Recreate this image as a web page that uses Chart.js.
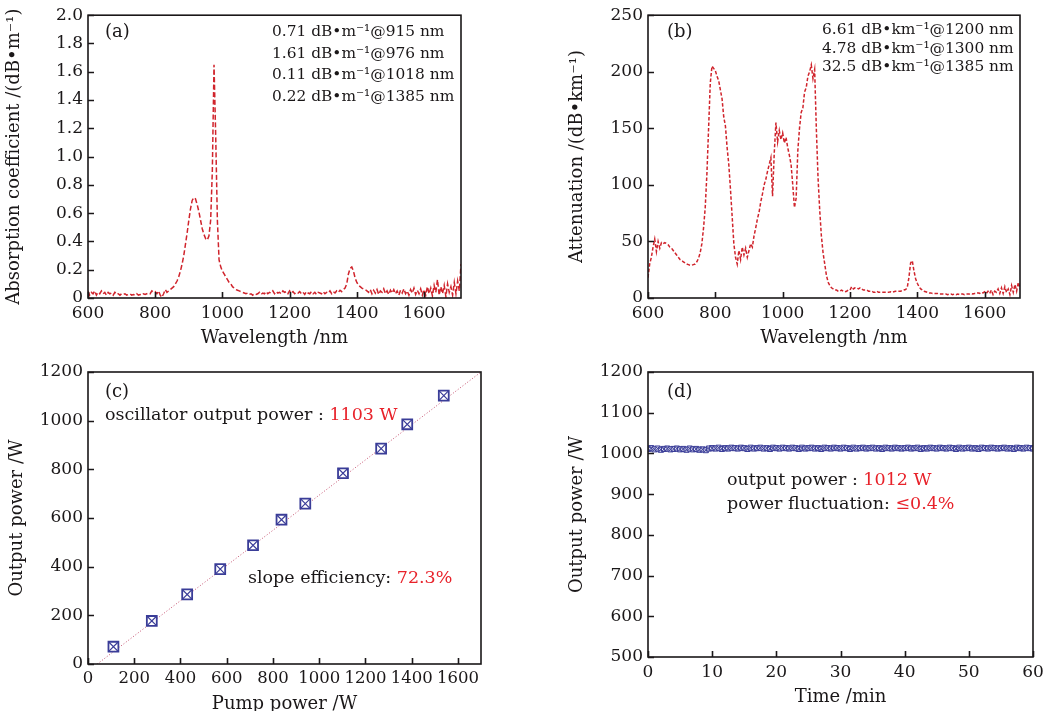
<!DOCTYPE html>
<html>
<head>
<meta charset="utf-8">
<script src="https://cdn.jsdelivr.net/npm/chart.js@4.4.1/dist/chart.umd.min.js"></script>
<style>
    body { margin: 0; background: #fff; width: 1051px; height: 711px; position: relative; overflow: hidden; }
    canvas { position: absolute; }
</style>
</head>
<body>
<canvas id="chartA" width="525" height="352" style="left:0;top:0"></canvas>
<canvas id="chartB" width="491" height="352" style="left:560px;top:0"></canvas>
<canvas id="chartC" width="525" height="360" style="left:0;top:355px"></canvas>
<canvas id="chartD" width="491" height="356" style="left:560px;top:355px"></canvas>
<script>
// (a) absorption coefficient, dB/m, sampled every 5 nm from 600 nm
const absorption = [
    0.05, 0.02, 0.04, 0.03, 0.05, 0.02, 0.04, 0.03, 0.05, 0.03,   // 600
    0.04, 0.02, 0.04, 0.03, 0.035, 0.02, 0.04, 0.025, 0.03, 0.02, // 650
    0.03, 0.025, 0.03, 0.02, 0.025, 0.03, 0.02, 0.025, 0.02, 0.03, // 700
    0.02, 0.025, 0.02, 0.03, 0.025, 0.03, 0.035, 0.03, 0.05, 0.04, // 750
    0.045, 0.03, 0.05, 0.02, 0.005, 0.03, 0.06, 0.04, 0.05, 0.06,  // 800
    0.07, 0.08, 0.10, 0.12, 0.15, 0.19, 0.24, 0.30, 0.38, 0.46,    // 850
    0.55, 0.63, 0.69, 0.71, 0.70, 0.66, 0.61, 0.55, 0.49, 0.45,    // 900
    0.42, 0.41, 0.44, 0.55, 0.90, 1.65, 1.15, 0.55, 0.27, 0.22,    // 950
    0.19, 0.17, 0.15, 0.13, 0.11, 0.10, 0.08, 0.07, 0.06, 0.055,   // 1000
    0.05, 0.045, 0.04, 0.035, 0.03, 0.035, 0.025, 0.03, 0.02, 0.03, // 1050
    0.025, 0.03, 0.04, 0.025, 0.035, 0.03, 0.045, 0.03, 0.04, 0.035, // 1100
    0.05, 0.03, 0.045, 0.035, 0.04, 0.03, 0.05, 0.04, 0.045, 0.03,  // 1150
    0.05, 0.035, 0.045, 0.03, 0.04, 0.035, 0.045, 0.03, 0.04, 0.025, // 1200
    0.045, 0.035, 0.03, 0.045, 0.03, 0.04, 0.025, 0.04, 0.035, 0.03, // 1250
    0.045, 0.03, 0.04, 0.035, 0.05, 0.03, 0.045, 0.035, 0.05, 0.04,  // 1300
    0.055, 0.045, 0.06, 0.07, 0.10, 0.17, 0.21, 0.22, 0.19, 0.14,    // 1350
    0.11, 0.09, 0.08, 0.07, 0.065, 0.06, 0.05, 0.04, 0.06, 0.03,     // 1400
    0.055, 0.035, 0.06, 0.025, 0.05, 0.04, 0.065, 0.03, 0.05, 0.025, // 1450
    0.055, 0.035, 0.06, 0.03, 0.05, 0.02, 0.055, 0.035, 0.065, 0.03, // 1500
    0.05, 0.02, 0.06, 0.035, 0.07, 0.025, 0.055, 0.03, 0.065, 0.02,  // 1550
    0.06, 0.02, 0.08, 0.03, 0.07, 0.015, 0.09, 0.04, 0.13, 0.02,     // 1600
    0.08, 0.03, 0.09, 0.01, 0.10, 0.04, 0.08, 0.02, 0.11, 0.03,      // 1650
    0.12, 0.05, 0.24                                                 // 1700
];

// (b) attenuation, dB/km, sampled every 5 nm from 600 nm
const attenuation = [
    18, 30, 36, 45, 52, 41, 50, 44, 49, 48,          // 600
    49, 48, 47, 45, 44, 42, 40, 38, 36, 34,          // 650
    33, 32, 31, 30, 29.5, 29, 29, 29.5, 30, 32,      // 700
    35, 40, 48, 62, 80, 110, 150, 190, 205, 203,     // 750
    201, 196, 192, 184, 176, 160, 152, 133, 118, 96, // 800
    72, 48, 36, 30, 42, 34, 45, 38, 44, 36,          // 850
    42, 48, 45, 55, 62, 70, 76, 85, 92, 100,         // 900
    105, 112, 118, 124, 90, 128, 155, 138, 148, 140, // 950
    146, 137, 142, 133, 126, 118, 100, 80, 88, 130,  // 1000
    150, 164, 168, 182, 186, 196, 200, 206, 194, 202, // 1050
    150, 107, 78, 55, 40, 30, 20, 14, 11, 9,         // 1100
    8, 7, 7, 6, 6, 7, 6, 5.5, 6, 7,                  // 1150
    7, 10, 8, 9, 9, 8, 9, 8, 7, 7,                   // 1200
    7, 6, 6, 6, 5, 5, 6, 5, 5, 5,                    // 1250
    5, 5, 5, 5, 5.5, 5, 5.5, 6, 6, 6,                // 1300
    6, 6.5, 7, 7.5, 9, 18, 31, 33, 24, 17,           // 1350
    13, 10, 8, 7, 6, 5.5, 5, 4.5, 4.5, 4,            // 1400
    4, 4, 4, 3.5, 3.5, 3.5, 3.5, 3.5, 3, 3.5,        // 1450
    3.5, 3, 3.5, 3, 3.5, 3, 3.5, 3.5, 3, 3.5,        // 1500
    3.5, 3.5, 4, 3.5, 4, 4, 4.5, 4, 5, 4.5,          // 1550
    5.5, 4, 6, 4, 7, 3, 6, 5, 8, 4,                  // 1600
    9, 4, 10, 5, 8, 3, 11, 5, 12, 6,                 // 1650
    14, 8                                            // 1700
];

// (c) pump power vs output power, W
const pumpPower = [110, 276, 429, 572, 714, 837, 940, 1103, 1268, 1381, 1539];
const outputPower = [71, 177, 286, 390, 488, 593, 659, 784, 885, 985, 1103];
const fitPump = [40, 1700];
const fitOutput = [0, 1200];

// (d) output power over 60 min, W, one reading every 0.5 min
const stability = [
    1011, 1013, 1010, 1012, 1009, 1011, 1012, 1010, 1011, 1012, // 0
    1010, 1011, 1009, 1012, 1010, 1011, 1009, 1010, 1008, 1012, // 5
    1013, 1012, 1014, 1011, 1013, 1012, 1014, 1013, 1012, 1014, // 10
    1013, 1011, 1014, 1012, 1013, 1014, 1012, 1013, 1011, 1014, // 15
    1013, 1012, 1014, 1013, 1012, 1014, 1013, 1011, 1014, 1012, // 20
    1013, 1014, 1012, 1013, 1011, 1014, 1013, 1012, 1014, 1013, // 25
    1012, 1014, 1013, 1011, 1014, 1012, 1013, 1014, 1012, 1013, // 30
    1014, 1012, 1013, 1011, 1014, 1013, 1012, 1014, 1013, 1012, // 35
    1013, 1014, 1012, 1013, 1014, 1011, 1013, 1012, 1014, 1013, // 40
    1012, 1014, 1013, 1012, 1014, 1013, 1011, 1014, 1012, 1013, // 45
    1014, 1012, 1013, 1011, 1014, 1013, 1012, 1014, 1013, 1012, // 50
    1013, 1014, 1012, 1013, 1011, 1014, 1013, 1012, 1014, 1013, // 55
    1012                                                        // 60
];

// sampling grids
function grid(start, step, n) {
    let out = [];
    for (let i = 0; i < n; i++) out.push(+(start + i * step).toFixed(2));
    return out;
}
const wavelengthA = grid(600, 5, absorption.length);
const wavelengthB = grid(600, 5, attenuation.length);
const timeMin = grid(0, 0.5, stability.length);

function pairs(xs, ys) {
    return xs.map((x, i) => ({x: x, y: ys[i]}));
}

const FONT = "'DejaVu Serif', serif";
const INK = '#1a1718';
const RED = '#e8222a';
const LINE_RED = '#d0242c';
const BLUE = '#3a3d98';

// box round the plot, inward ticks, and the notes inside the plot
const framePlugin = {
    id: 'frame',
    afterDraw(chart, args, opts) {
        const ctx = chart.ctx;
        const a = chart.chartArea;
        const sx = chart.scales.x, sy = chart.scales.y;
        ctx.save();
        ctx.strokeStyle = INK;
        ctx.lineWidth = 1.6;
        ctx.strokeRect(a.left, a.top, a.right - a.left, a.bottom - a.top);
        ctx.beginPath();
        sx.ticks.forEach(t => {
            const px = Math.round(sx.getPixelForValue(t.value)) + 0.5;
            ctx.moveTo(px, a.bottom);
            ctx.lineTo(px, a.bottom - 6);
        });
        sy.ticks.forEach(t => {
            const py = Math.round(sy.getPixelForValue(t.value)) + 0.5;
            ctx.moveTo(a.left, py);
            ctx.lineTo(a.left + 6, py);
        });
        ctx.stroke();
        ctx.textBaseline = 'middle';
        ctx.textAlign = 'left';
        (opts.notes || []).forEach(n => {
            ctx.font = n.size + 'px ' + FONT;
            let cx = a.left + n.dx;
            n.parts.forEach(p => {
                ctx.fillStyle = p.color || INK;
                ctx.fillText(p.text, cx, a.top + n.dy);
                cx += ctx.measureText(p.text).width;
            });
        });
        ctx.restore();
    }
};

function axis(opts) {
    return {
        type: 'linear',
        min: opts.min,
        max: opts.max,
        grid: {display: false, drawTicks: false},
        border: {display: false},
        ticks: {
            stepSize: opts.step,
            includeBounds: false,
            autoSkip: false,
            maxRotation: 0,
            minRotation: 0,
            padding: opts.pad,
            color: INK,
            font: {family: FONT, size: opts.tickSize || 17},
            callback: opts.format || (v => v)
        },
        title: {
            display: true,
            text: opts.title,
            color: INK,
            font: {family: FONT, size: 18},
            padding: opts.titlePad
        },
        afterFit: opts.fit
    };
}

function makeChart(id, datasets, sc, pad, notes) {
    return new Chart(document.getElementById(id), {
        type: 'scatter',
        data: {datasets: datasets},
        options: {
            responsive: false,
            animation: false,
            layout: {padding: pad},
            plugins: {legend: {display: false}, tooltip: {enabled: false}, frame: {notes: notes}},
            scales: sc
        },
        plugins: [framePlugin]
    });
}

function spectrum(xs, ys, dash) {
    return {
        type: 'line',
        data: pairs(xs, ys),
        borderColor: LINE_RED,
        borderWidth: 1.5,
        borderDash: dash,
        pointRadius: 0,
        tension: 0
    };
}

// (a)
makeChart('chartA', [spectrum(wavelengthA, absorption, [5, 2.5])], {
    x: axis({min: 600, max: 1710, step: 200, pad: 5, title: 'Wavelength /nm',
        titlePad: {top: 0, bottom: 3}, fit: s => { s.height = 54; }}),
    y: axis({min: 0, max: 2, step: 0.2, pad: 5, title: 'Absorption coefficient /(dB•m⁻¹)',
        titlePad: {top: 4, bottom: 0}, fit: s => { s.width = 88; },
        format: v => (v === 0 ? '0' : v.toFixed(1))})
}, {left: 0, right: 64, top: 15, bottom: 0}, [
    {size: 18, dx: 17, dy: 17, parts: [{text: '(a)'}]},
    {size: 15.4, dx: 184, dy: 17, parts: [{text: '0.71 dB•m⁻¹@915 nm'}]},
    {size: 15.4, dx: 184, dy: 38.5, parts: [{text: '1.61 dB•m⁻¹@976 nm'}]},
    {size: 15.4, dx: 184, dy: 60, parts: [{text: '0.11 dB•m⁻¹@1018 nm'}]},
    {size: 15.4, dx: 184, dy: 82, parts: [{text: '0.22 dB•m⁻¹@1385 nm'}]}
]);

// (b)
makeChart('chartB', [spectrum(wavelengthB, attenuation, [3.5, 2])], {
    x: axis({min: 600, max: 1705, step: 200, pad: 5, title: 'Wavelength /nm',
        titlePad: {top: 0, bottom: 3}, fit: s => { s.height = 54; }}),
    y: axis({min: 0, max: 250, step: 50, pad: 5, title: 'Attenuation /(dB•km⁻¹)',
        titlePad: {top: 7, bottom: 0}, fit: s => { s.width = 88; }})
}, {left: 0, right: 31, top: 15, bottom: 0}, [
    {size: 18, dx: 19, dy: 17, parts: [{text: '(b)'}]},
    {size: 15.4, dx: 174, dy: 15, parts: [{text: '6.61 dB•km⁻¹@1200 nm'}]},
    {size: 15.4, dx: 174, dy: 33.5, parts: [{text: '4.78 dB•km⁻¹@1300 nm'}]},
    {size: 15.4, dx: 174, dy: 52, parts: [{text: '32.5 dB•km⁻¹@1385 nm'}]}
]);

// (c)  datasets are painted last-first, so the crosses go before the squares
makeChart('chartC', [
    {data: pairs(pumpPower, outputPower), pointStyle: 'crossRot', pointRadius: 7,
        borderColor: BLUE, borderWidth: 1.2},
    {data: pairs(pumpPower, outputPower), pointStyle: 'rect', pointRadius: 7,
        borderColor: BLUE, borderWidth: 1.8, backgroundColor: 'rgba(255,255,255,0.85)'},
    {type: 'line', data: pairs(fitPump, fitOutput), borderColor: '#c4506e', borderWidth: 1,
        borderDash: [1, 2], pointRadius: 0}
], {
    x: axis({min: 0, max: 1700, step: 200, pad: 5, tickSize: 16.5, title: 'Pump power /W',
        titlePad: {top: 0, bottom: 0}, fit: s => { s.height = 51; }}),
    y: axis({min: 0, max: 1200, step: 200, pad: 5, title: 'Output power /W',
        titlePad: {top: 7, bottom: 0}, fit: s => { s.width = 88; }})
}, {left: 0, right: 44, top: 17, bottom: 0}, [
    {size: 18, dx: 17, dy: 20, parts: [{text: '(c)'}]},
    {size: 17.5, dx: 17, dy: 43, parts: [{text: 'oscillator output power : '}, {text: '1103 W', color: RED}]},
    {size: 17.5, dx: 160, dy: 206, parts: [{text: 'slope efficiency: '}, {text: '72.3%', color: RED}]}
]);

// (d)
makeChart('chartD', [
    {data: pairs(timeMin, stability), pointStyle: 'crossRot', pointRadius: 3.6,
        borderColor: BLUE, borderWidth: 0.9},
    {data: pairs(timeMin, stability), pointStyle: 'rect', pointRadius: 3.6,
        borderColor: BLUE, borderWidth: 1, backgroundColor: 'rgba(255,255,255,0.6)'}
], {
    x: axis({min: 0, max: 60, step: 10, pad: 5, title: 'Time /min',
        titlePad: {top: 0, bottom: 3}, fit: s => { s.height = 54; }}),
    y: axis({min: 500, max: 1200, step: 100, pad: 5, title: 'Output power /W',
        titlePad: {top: 7, bottom: 0}, fit: s => { s.width = 88; }})
}, {left: 0, right: 18, top: 17, bottom: 0}, [
    {size: 18, dx: 19, dy: 20, parts: [{text: '(d)'}]},
    {size: 17.5, dx: 79, dy: 108, parts: [{text: 'output power : '}, {text: '1012 W', color: RED}]},
    {size: 17.5, dx: 79, dy: 132, parts: [{text: 'power fluctuation: '}, {text: '≤0.4%', color: RED}]}
]);
</script>
</body>
</html>
